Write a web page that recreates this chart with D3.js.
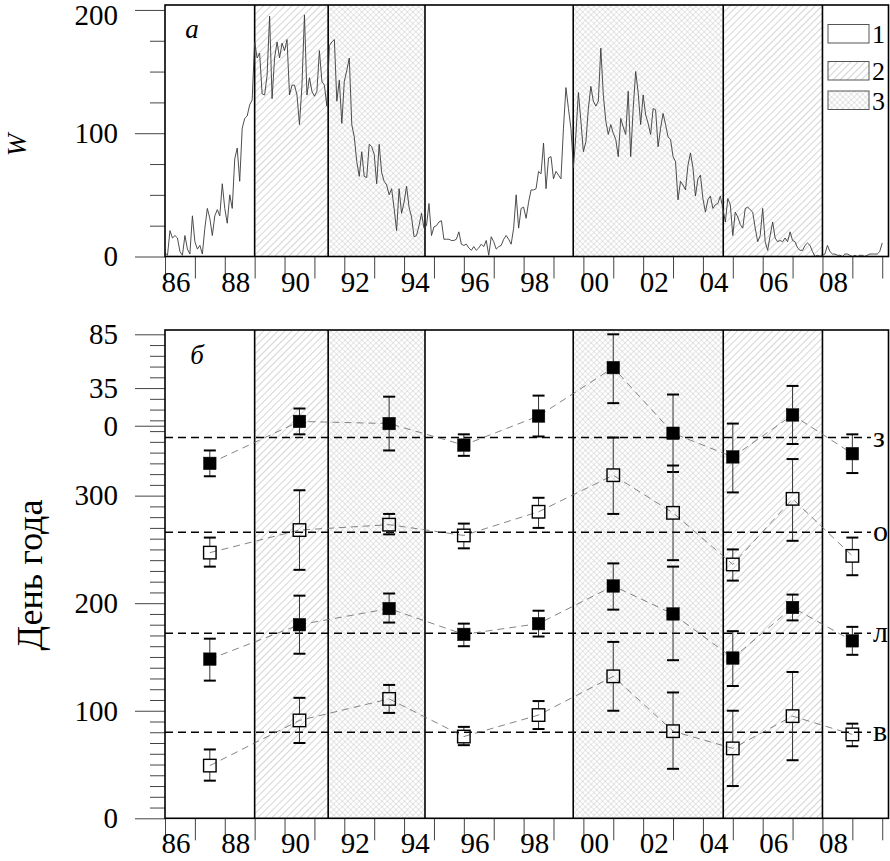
<!DOCTYPE html>
<html>
<head>
<meta charset="utf-8">
<script src="https://cdn.jsdelivr.net/npm/d3@7"></script>
<style>
  body { margin: 0; background: #fff; }
  svg { display: block; }
</style>
</head>
<body>
<svg id="chart" width="890" height="861"></svg>
<script>
// ---- data ----
// monthly W, starting January 1986
var startYear = 1986;
var wMonthly = [3,
  1,21,15,17,15,4,1,17,6,2, 33,12,6,9,2,23,39,31,17,33,
  38,33,59,39,27,50,39,79,88,61, 104,112,114,123,127,174,161,165,132,131,
  147,195,128,161,174,161,173,167,176,131, 139,139,131,107,139,196,131,145,
  134,130,134,167,142,139,122,171,174,176, 126,143,108,142,151,161,107,97,77,65,
  85,65,64,91,89,83,59,91,68,61, 58,50,55,39,21,55,35,44,57,40,
  32,16,17,25,35,23,25,43,17,24, 25,28,29,14,14,14,13,13,
  14,20,10,9,10,7,5,8,5,7, 10,8,13,1,16,12,6,8,9,14,
  17,14,10,23,50,23,39,40,31,44, 54,54,55,69,67,92,55,80,81,63,
  69,66,63,104,137,120,104,72,99,133, 110,85,93,120,138,126,122,126,
  169,131,110,99,107,100,95,81,112,105, 99,134,81,120,150,133,107,131,115,108,
  99,120,119,89,104,116,107,97,95,81, 77,46,61,58,54,74,84,72,49,63,
  66,47,36,46,49,39,42,43,49,39, 28,47,42,17,36,32,26,23,39,
  40,38,36,23,12,17,39,12,5,17, 28,15,12,13,12,15,12,20,13,12,
  7,5,5,9,11,9,4,0,1,0, 1,2,9,4,2,2,1,1,0,2,
  2,1,0,1,0,1,1,0,1,2, 2,2,2,4,11];

// cycle phases: start, end, type (1 white, 2 hatched, 3 cross-hatched)
var phaseStart = [1986, 1989.0, 1991.46, 1994.7, 1999.66, 2004.68, 2008.0];
var phaseEnd   = [1989.0, 1991.46, 1994.7, 1999.66, 2004.68, 2008.0, 2010.21];
var phaseType  = [1, 2, 3, 1, 3, 2, 1];

// seasonal dates (day of year, >365 means next January/February)
var pointYears = [1987.5, 1990.5, 1993.5, 1996.0, 1998.5, 2001.0, 2003.0, 2005.0, 2007.0, 2009.0];
var winterMean = [330, 369, 367, 347, 374, 419, 358, 336, 375, 339];
var winterHi   = [342, 381, 392, 357, 393, 450, 394, 367, 402, 357];
var winterLo   = [318, 357, 342, 337, 355, 386, 322, 303, 348, 321];
var autumnMean = [247, 268, 273, 263, 285, 319, 284, 236, 297, 244];
var autumnHi   = [261, 305, 283, 274, 298, 354, 328, 250, 334, 261];
var autumnLo   = [234, 231, 264, 251, 270, 283, 240, 221, 258, 226];
var summerMean = [148, 180, 195, 171, 181, 216, 190, 149, 196, 165];
var summerHi   = [167, 207, 209, 181, 193, 237, 234, 174, 208, 178];
var summerLo   = [128, 153, 182, 160, 169, 194, 147, 123, 184, 152];
var springMean = [49, 91, 111, 76, 96, 132, 81, 65, 95, 78];
var springHi   = [64, 112, 124, 85, 109, 164, 117, 100, 136, 88];
var springLo   = [35, 70, 98, 68, 83, 100, 46, 30, 54, 67];

var seasonNames = ["з", "о", "л", "в"];
var seasonAverage = [354, 266, 172, 80];

var yearTicks = d3.range(1986, 2011);
var yearLabelYears = d3.range(1986, 2010, 2);
var wMajorTicks = [0, 100, 200];
var wMinorTicks = [25, 50, 75, 125, 150, 175];
var dayMajorTicks = [0, 100, 200, 300, 365, 400, 450];
var dayTickLabels = ["0", "100", "200", "300", "0", "35", "85"];
var legendLabels = ["1", "2", "3"];

var serif = "Liberation Serif, Times New Roman, DejaVu Serif, serif";

// ---- layout ----
var svg = d3.select("#chart").attr("font-family", serif);
var left = 165, right = 888.5;
var x = d3.scaleLinear().domain([1986, 2010.21]).range([left, right]);

var yW = d3.scaleLinear().domain([0, 204]).range([256.5, 5]);
var yD = d3.scaleLinear().domain([0, 454]).range([818.3, 330]);

// patterns
var defs = svg.append("defs");
var hatch = defs.append("pattern")
    .attr("id", "hatch")
    .attr("patternUnits", "userSpaceOnUse")
    .attr("width", 5).attr("height", 5)
    .attr("patternTransform", "rotate(45)");
hatch.append("rect").attr("width", 5).attr("height", 5).attr("fill", "#fff");
hatch.append("line").attr("x1", 0).attr("y1", 0).attr("x2", 0).attr("y2", 5)
    .attr("stroke", "#c4c4c4").attr("stroke-width", 1.4);

var cross = defs.append("pattern")
    .attr("id", "cross")
    .attr("patternUnits", "userSpaceOnUse")
    .attr("width", 4).attr("height", 4)
    .attr("patternTransform", "rotate(45)");
cross.append("rect").attr("width", 4).attr("height", 4).attr("fill", "#fff");
cross.append("line").attr("x1", 0).attr("y1", 0).attr("x2", 0).attr("y2", 4)
    .attr("stroke", "#cbcbcb").attr("stroke-width", 1);
cross.append("line").attr("x1", 0).attr("y1", 0).attr("x2", 4).attr("y2", 0)
    .attr("stroke", "#cbcbcb").attr("stroke-width", 1);

function fillFor(t) {
    return t === 1 ? "#fff" : (t === 2 ? "url(#hatch)" : "url(#cross)");
}

var phases = phaseStart.map(function(s, i) {
    return {start: s, end: phaseEnd[i], type: phaseType[i]};
});

// d3 axes put a sans-serif font on their group, switch it back
function styleAxis(ax) {
    ax.attr("font-family", serif).attr("font-size", 29);
    ax.select(".domain").remove();
    ax.selectAll("line").attr("stroke", "#444");
    ax.selectAll("text").attr("fill", "#000");
}

function drawPanel(y, tag) {
    var g = svg.append("g").attr("class", "panel-" + tag);
    var y0 = y.range()[0], y1 = y.range()[1];

    g.selectAll("rect.band")
        .data(phases)
        .enter().append("rect")
        .attr("class", "band")
        .attr("x", d => x(d.start))
        .attr("y", y1)
        .attr("width", d => x(d.end) - x(d.start))
        .attr("height", y0 - y1)
        .attr("fill", d => fillFor(d.type));

    // phase boundaries
    g.selectAll("line.bound")
        .data(phases.slice(1))
        .enter().append("line")
        .attr("class", "bound")
        .attr("x1", d => x(d.start)).attr("x2", d => x(d.start))
        .attr("y1", y1).attr("y2", y0)
        .attr("stroke", "#000").attr("stroke-width", 1.6);

    // x axis ticks
    var xAxis = g.append("g")
        .attr("transform", "translate(0," + y0 + ")")
        .call(d3.axisBottom(x).tickValues(yearTicks).tickSize(22).tickFormat(""));
    styleAxis(xAxis);

    g.selectAll("text.xlab")
        .data(yearLabelYears)
        .enter().append("text")
        .attr("class", "xlab")
        .attr("x", d => x(d + 0.37))
        .attr("y", y0 + 35)
        .attr("text-anchor", "middle")
        .attr("font-size", 29)
        .text(d => String(d % 100).padStart(2, "0"));

    return g;
}

// ---------- panel a ----------
var gA = drawPanel(yW, "a");

defs.append("clipPath").attr("id", "clipA")
    .append("rect").attr("x", left).attr("y", 5)
    .attr("width", right - left).attr("height", 251.5);

var wLine = d3.line()
    .x((d, i) => x(startYear + i / 12))
    .y(d => yW(d));

gA.append("path")
    .datum(wMonthly)
    .attr("d", wLine)
    .attr("clip-path", "url(#clipA)")
    .attr("fill", "none")
    .attr("stroke", "#3a3a3a")
    .attr("stroke-width", 0.9);

var yAxisA = gA.append("g").attr("transform", "translate(" + left + ",0)")
    .call(d3.axisLeft(yW).tickValues(wMajorTicks).tickSize(30).tickPadding(17));
styleAxis(yAxisA);
yAxisA.selectAll(".tick text").filter(d => d === 200).attr("dy", "0.5em");

var yAxisAm = gA.append("g").attr("transform", "translate(" + left + ",0)")
    .call(d3.axisLeft(yW).tickValues(wMinorTicks).tickSize(15).tickFormat(""));
styleAxis(yAxisAm);

gA.append("rect")
    .attr("x", left).attr("y", 5)
    .attr("width", right - left).attr("height", 251.5)
    .attr("fill", "none").attr("stroke", "#000").attr("stroke-width", 1.6);

gA.append("text")
    .attr("x", 192).attr("y", 38)
    .attr("text-anchor", "middle")
    .attr("font-size", 27).attr("font-style", "italic")
    .text("а");

gA.append("text")
    .attr("transform", "translate(26,145) rotate(-90)")
    .attr("text-anchor", "middle")
    .attr("font-size", 27).attr("font-style", "italic")
    .text("W");

// legend
var legend = gA.append("g");
legend.selectAll("rect")
    .data(legendLabels)
    .enter().append("rect")
    .attr("x", 828)
    .attr("y", (d, i) => [24.5, 61.5, 91][i])
    .attr("width", 41).attr("height", 18.5)
    .attr("fill", (d, i) => fillFor(i + 1))
    .attr("stroke", "#555").attr("stroke-width", 1);
legend.selectAll("text")
    .data(legendLabels)
    .enter().append("text")
    .attr("x", 872)
    .attr("y", (d, i) => [43, 80, 109.5][i])
    .attr("font-size", 26)
    .text(d => d);

// ---------- panel b ----------
var gB = drawPanel(yD, "b");

// average dashed lines
gB.selectAll("line.avg")
    .data(seasonAverage)
    .enter().append("line")
    .attr("class", "avg")
    .attr("x1", left).attr("x2", 871)
    .attr("y1", d => yD(d)).attr("y2", d => yD(d))
    .attr("stroke", "#000").attr("stroke-width", 1.6)
    .attr("stroke-dasharray", "8,5");

gB.selectAll("text.season")
    .data(seasonNames)
    .enter().append("text")
    .attr("class", "season")
    .attr("x", 873)
    .attr("y", (d, i) => yD(seasonAverage[i]) + 9)
    .attr("font-size", 30)
    .text(d => d);

var series = [
    {mean: winterMean, hi: winterHi, lo: winterLo, filled: true},
    {mean: autumnMean, hi: autumnHi, lo: autumnLo, filled: false},
    {mean: summerMean, hi: summerHi, lo: summerLo, filled: true},
    {mean: springMean, hi: springHi, lo: springLo, filled: false}
];

var sq = 12.5, cap = 12;
series.forEach(function(s) {
    var pts = pointYears.map(function(yr, i) {
        return {year: yr, mean: s.mean[i], hi: s.hi[i], lo: s.lo[i]};
    });

    gB.append("path")
        .datum(pts)
        .attr("d", d3.line().x(d => x(d.year)).y(d => yD(d.mean)))
        .attr("fill", "none")
        .attr("stroke", "#666")
        .attr("stroke-width", 0.8)
        .attr("stroke-dasharray", "7,5");

    var bars = gB.append("g").selectAll("g")
        .data(pts)
        .enter().append("g");

    bars.append("line")
        .attr("x1", d => x(d.year)).attr("x2", d => x(d.year))
        .attr("y1", d => yD(d.hi)).attr("y2", d => yD(d.mean) - sq / 2)
        .attr("stroke", "#333").attr("stroke-width", 1);
    bars.append("line")
        .attr("x1", d => x(d.year)).attr("x2", d => x(d.year))
        .attr("y1", d => yD(d.mean) + sq / 2).attr("y2", d => yD(d.lo))
        .attr("stroke", "#333").attr("stroke-width", 1);
    bars.append("line")
        .attr("x1", d => x(d.year) - cap / 2).attr("x2", d => x(d.year) + cap / 2)
        .attr("y1", d => yD(d.hi)).attr("y2", d => yD(d.hi))
        .attr("stroke", "#000").attr("stroke-width", 2);
    bars.append("line")
        .attr("x1", d => x(d.year) - cap / 2).attr("x2", d => x(d.year) + cap / 2)
        .attr("y1", d => yD(d.lo)).attr("y2", d => yD(d.lo))
        .attr("stroke", "#000").attr("stroke-width", 2);

    bars.append("rect")
        .attr("x", d => x(d.year) - sq / 2)
        .attr("y", d => yD(d.mean) - sq / 2)
        .attr("width", sq).attr("height", sq)
        .attr("fill", s.filled ? "#000" : "none")
        .attr("stroke", "#000")
        .attr("stroke-width", s.filled ? 0.5 : 1.4);
});

var yAxisB = gB.append("g").attr("transform", "translate(" + left + ",0)")
    .call(d3.axisLeft(yD).tickValues(dayMajorTicks).tickSize(30).tickPadding(17)
        .tickFormat((d, i) => dayTickLabels[i]));
styleAxis(yAxisB);

var yAxisBm = gB.append("g").attr("transform", "translate(" + left + ",0)")
    .call(d3.axisLeft(yD).tickValues(d3.range(10, 451, 10).filter(v => dayMajorTicks.indexOf(v) < 0))
        .tickSize(15).tickFormat(""));
styleAxis(yAxisBm);

gB.append("rect")
    .attr("x", left).attr("y", 330)
    .attr("width", right - left).attr("height", 818.3 - 330)
    .attr("fill", "none").attr("stroke", "#000").attr("stroke-width", 1.6);

gB.append("text")
    .attr("x", 197).attr("y", 364)
    .attr("text-anchor", "middle")
    .attr("font-size", 27).attr("font-style", "italic")
    .text("б");

gB.append("text")
    .attr("transform", "translate(42,575) rotate(-90)")
    .attr("text-anchor", "middle")
    .attr("font-size", 36)
    .text("День года");
</script>
</body>
</html>
